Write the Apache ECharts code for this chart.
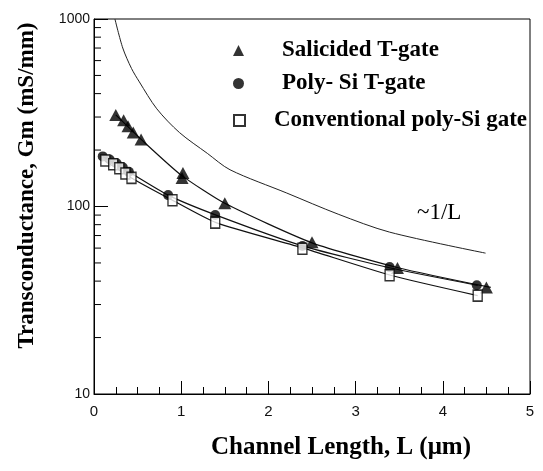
<!DOCTYPE html>
<html>
<head>
<meta charset="utf-8">
<script src="https://cdn.jsdelivr.net/npm/echarts@6/dist/echarts.min.js"></script>
<style>html,body{margin:0;padding:0;background:#fff;}#c{width:543px;height:471px;}</style>
</head>
<body>
<div id="c"></div>
<script>
// ---- data ----
var salX = [0.25, 0.34, 0.39, 0.45, 0.54, 1.01, 1.02, 1.5, 2.5, 3.48, 4.5];
var salY = [308, 288, 268, 248, 228, 142, 151, 104, 64.5, 47, 37];
var polyX = [0.1, 0.18, 0.26, 0.33, 0.4, 0.85, 1.39, 2.39, 3.39, 4.39];
var polyY = [185, 178, 170, 162, 153, 115, 90, 61.5, 47.5, 38];
var convX = [0.13, 0.22, 0.29, 0.36, 0.43, 0.9, 1.39, 2.39, 3.39, 4.4];
var convY = [176, 168, 160, 150, 142, 108, 82, 59.5, 43, 33.5];

var salFitX = [0.25, 0.55, 1.0, 1.5, 2.5, 3.5, 4.55];
var salFitY = [308, 226, 147, 104, 64, 47, 37];
var polyFitX = [0.1, 0.4, 0.85, 1.4, 2.4, 3.4, 4.4];
var polyFitY = [185, 153, 115, 90, 61.5, 47, 38];
var convFitX = [0.12, 0.43, 0.9, 1.4, 2.4, 3.4, 4.4];
var convFitY = [176, 142, 108, 82, 60, 43, 33.5];

var invX = [0.24, 0.33, 0.43, 0.52, 0.72, 0.98, 1.3, 1.56, 2.21, 2.8, 3.39, 4.49];
var invY = [1000, 700, 545, 462, 332, 248, 192, 157, 118, 91, 73, 56.4];

var seriesNames = ['Salicided T-gate', 'Poly- Si T-gate', 'Conventional poly-Si gate'];
var xTickLabels = ['0', '1', '2', '3', '4', '5'];
var yTickLabels = ['10', '100', '1000'];
var yMinorTicks = [20, 30, 40, 50, 60, 70, 80, 90, 200, 300, 400, 500, 600, 700, 800, 900];
var xTitle = 'Channel Length, L (\u03BCm)';
var yTitle = 'Transconductance, Gm (mS/mm)';
var curveLabel = '~1/L';

function zip(a, b) { return a.map(function (v, i) { return [v, b[i]]; }); }

var serif = 'Liberation Serif';
var sans = 'Liberation Sans';

function legendItem(name, top, padLeft) {
  return {
    show: true,
    data: [name], orient: 'vertical', left: 228, top: top,
    itemWidth: 11, itemHeight: 11, itemGap: 0, selectedMode: false,
    textStyle: { fontFamily: serif, fontWeight: 'bold', fontSize: 23, color: '#000', padding: [0, 0, 0, padLeft] }
  };
}

var chart = echarts.init(document.getElementById('c'), null, { renderer: 'canvas' });
chart.setOption({
  animation: false,
  backgroundColor: '#fff',
  grid: { left: 94, right: 13, top: 19, bottom: 77, show: true, borderColor: '#000', borderWidth: 1 },
  legend: [
    legendItem(seriesNames[0], 34, 33),
    legendItem(seriesNames[1], 67, 33),
    legendItem(seriesNames[2], 104, 24)
  ],
  xAxis: {
    type: 'value', min: 0, max: 5, interval: 1,
    axisLine: { show: true, lineStyle: { color: '#000', width: 1 } },
    axisTick: { show: true, inside: true, length: 13, lineStyle: { color: '#000', width: 1 } },
    minorTick: { show: true, splitNumber: 4, length: 7, lineStyle: { color: '#000', width: 1 } },
    splitLine: { show: false },
    minorSplitLine: { show: false },
    axisLabel: { show: true, fontFamily: sans, fontSize: 15, color: '#111', margin: 10,
      formatter: function (v) { return xTickLabels[Math.round(v)]; } },
    name: xTitle, nameLocation: 'middle', nameGap: 41,
    nameTextStyle: { fontFamily: serif, fontWeight: 'bold', fontSize: 25, color: '#000', padding: [0, 0, 0, 58] }
  },
  yAxis: {
    type: 'log', logBase: 10, min: 10, max: 1000,
    axisLine: { show: true, lineStyle: { color: '#000', width: 1 } },
    axisTick: { show: true, inside: true, length: 14, lineStyle: { color: '#000', width: 1 } },
    splitLine: { show: false },
    axisLabel: { show: true, fontFamily: sans, fontSize: 14, color: '#111', margin: 4,
      formatter: function (v) { var i = Math.round(Math.log10(v)) - 1; return yTickLabels[i]; } },
    name: yTitle, nameLocation: 'middle', nameGap: 55,
    nameTextStyle: { fontFamily: serif, fontWeight: 'bold', fontSize: 23, color: '#000', padding: [0, 0, 0, 42] }
  },
  graphic: [{
    type: 'text', left: 417, top: 201, silent: true, z: 10,
    style: { text: curveLabel, font: '23px "Liberation Serif"', fill: '#000' }
  }],
  series: [
    { type: 'custom', name: 'yMinor', z: 10, clip: false,
      encode: { x: 0, y: 1 },
      data: yMinorTicks.map(function (v) { return [0, v]; }),
      renderItem: function (params, api) {
        var p = api.coord([api.value(0), api.value(1)]);
        return { type: 'line', shape: { x1: p[0], y1: p[1], x2: p[0] + 7, y2: p[1] }, style: { stroke: '#000', lineWidth: 1 } };
      } },
    { type: 'line', name: 'inv', data: zip(invX, invY), smooth: 0.3, showSymbol: false, silent: true,
      lineStyle: { color: '#222', width: 1 }, z: 2 },
    { type: 'line', name: 'salFit', data: zip(salFitX, salFitY), smooth: 0.2, showSymbol: false, silent: true,
      lineStyle: { color: '#111', width: 1.2 }, z: 2 },
    { type: 'line', name: 'polyFit', data: zip(polyFitX, polyFitY), smooth: 0.2, showSymbol: false, silent: true,
      lineStyle: { color: '#111', width: 1.2 }, z: 2 },
    { type: 'line', name: 'convFit', data: zip(convFitX, convFitY), smooth: 0.2, showSymbol: false, silent: true,
      lineStyle: { color: '#111', width: 1.2 }, z: 2 },
    { type: 'scatter', name: seriesNames[0], data: zip(salX, salY), symbol: 'triangle', symbolSize: [13, 12],
      itemStyle: { color: '#000' }, z: 4 },
    { type: 'scatter', name: seriesNames[1], data: zip(polyX, polyY), symbol: 'circle', symbolSize: 10,
      itemStyle: { color: '#000' }, z: 5 },
    { type: 'scatter', name: seriesNames[2], data: zip(convX, convY), symbol: 'rect', symbolSize: [9, 11],
      itemStyle: { color: '#fff', borderColor: '#000', borderWidth: 1.5 }, z: 6 }
  ]
});
</script>
</body>
</html>
